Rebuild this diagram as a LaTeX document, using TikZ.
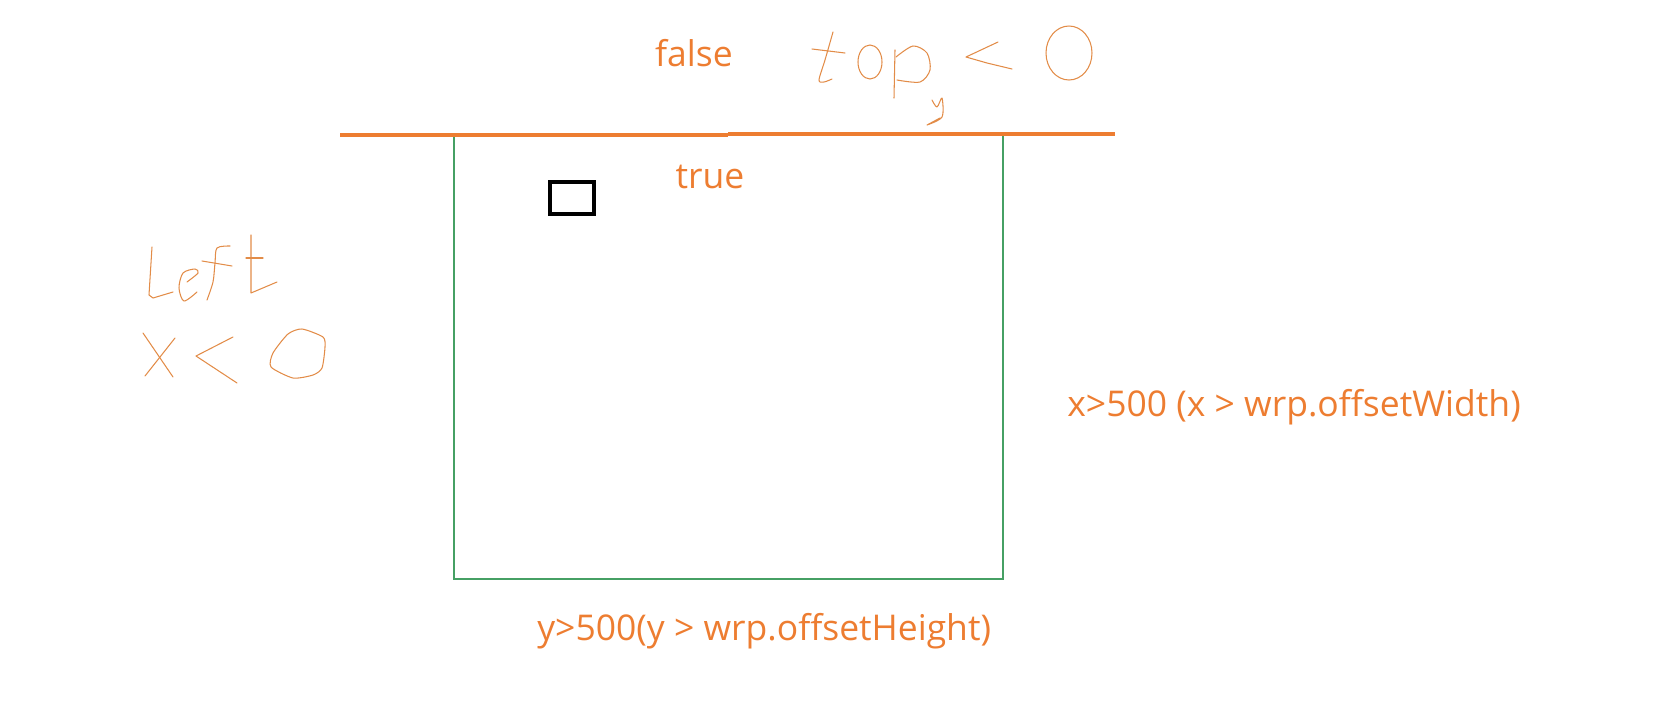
\documentclass[tikz,border=0pt]{standalone}
\usepackage{fontspec}
\setmainfont{Open Sans}
\usepackage{tikz}
\usetikzlibrary{positioning,calc}
\definecolor{paintorange}{RGB}{237,125,49}
\definecolor{penorange}{RGB}{226,140,72}
\definecolor{framegreen}{RGB}{70,160,100}

\begin{document}
\begin{tikzpicture}[
    x=0.02cm, y=-0.02cm,
    label/.style={text=paintorange, font=\fontsize{20.2}{23}\selectfont, inner sep=0pt},
    pen/.style={penorange, line width=0.6pt, line join=round, line cap=round},
    edge/.style={paintorange, line width=2.2pt}
]
\useasboundingbox (0,0) rectangle (1668,704);

% wrapper
\draw[framegreen, line width=0.6pt] (454,134) rectangle (1003,579);
\node[draw=black, line width=2pt, minimum width=25pt, minimum height=18pt, inner sep=0pt] (box) at (572,198) {};

% top edge
\draw[edge] (340,135) -- (728,135);
\draw[edge] (728,134) -- (1115,134);

% labels
\node[label] (false) at (694,53) {false};
\node[label] (true) at (710,177) {true};
\node[label, anchor=west] (right) at (1067,407) {x>500 (x > wrp.offsetWidth)};
\node[label, anchor=west] (bottom) at (537,631) {y>500(y > wrp.offsetHeight)};

% handwritten: top_y < 0
\draw[pen] plot[smooth, tension=0.5] coordinates {(833,32) (825,60) (819,80) (824,82) (832,79)};
\draw[pen] (812,49) -- (845,53);
\draw[pen] (870,62) ellipse [x radius=12, y radius=17];
\draw[pen] (895,50) -- (894,98);
\draw[pen] plot[smooth, tension=0.5] coordinates {(896,57) (913,46) (927,53) (930,70) (920,82) (897,80)};
\draw[pen] plot[smooth, tension=0.5] coordinates {(932,100) (937,107) (942,98) (942,117) (927,125) (940,118)};
\draw[pen] (998,42) -- (966,57) -- (987,63) -- (1012,69);
\draw[pen] (1069,53) ellipse [x radius=23, y radius=27];

% handwritten: Left x < 0
\draw[pen] (152,247) -- (149,295) -- (153,298) -- (173,292);
\draw[pen] plot[smooth, tension=0.5] coordinates {(187,282) (198,273) (195,269) (183,273) (179,288) (184,301) (197,292)};
\draw[pen] plot[smooth, tension=0.5] coordinates {(230,246) (217,248) (215,263) (213,282) (207,300)};
\draw[pen] (202,261) -- (232,266);
\draw[pen] (251,235) -- (251,293) -- (277,282);
\draw[pen] (246,258) -- (263,258);
\draw[pen] (143,333) -- (173,377);
\draw[pen] (175,338) -- (145,376);
\draw[pen] (233,337) -- (196,356) -- (237,383);
\draw[pen] plot[smooth cycle, tension=0.4] coordinates {(288,334) (302,329) (323,337) (325,347) (322,368) (313,375) (293,378) (271,367) (273,353)};

\end{tikzpicture}
\end{document}
